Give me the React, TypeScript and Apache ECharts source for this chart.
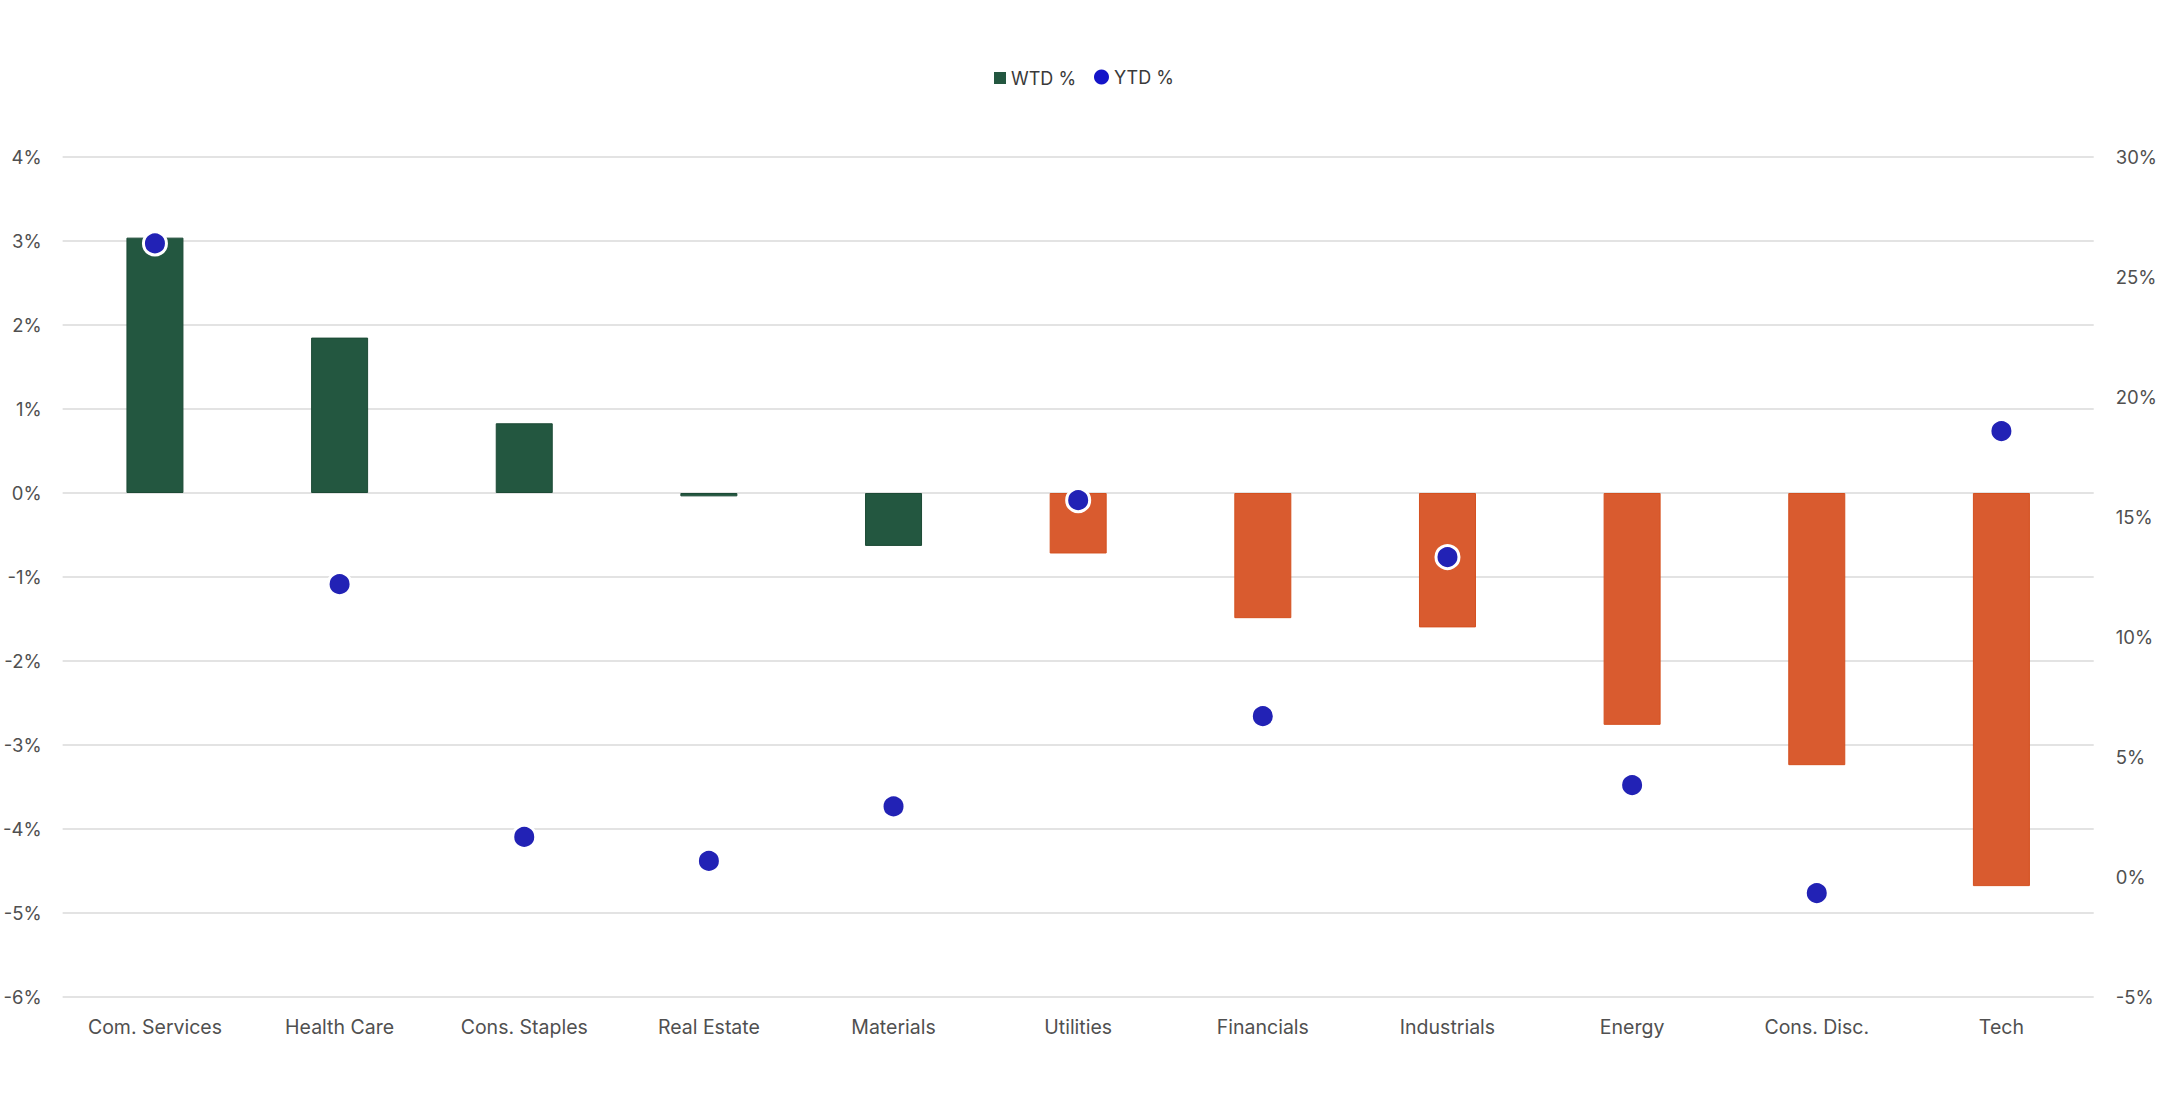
import React, { useEffect, useRef } from 'react';
import * as echarts from 'echarts';

const sectors = [
  'Com. Services', 'Health Care', 'Cons. Staples', 'Real Estate', 'Materials',
  'Utilities', 'Financials', 'Industrials', 'Energy', 'Cons. Disc.', 'Tech',
];
const wtdValues = [3.04, 1.85, 0.83, -0.04, -0.63, -0.72, -1.49, -1.6, -2.76, -3.24, -4.68];
const ytdValues = [26.4, 12.2, 1.67, 0.67, 2.94, 15.7, 6.7, 13.33, 3.83, -0.67, 18.58];
// first five bars green, the rest orange
const barColors = [
  '#235740', '#235740', '#235740', '#235740', '#235740',
  '#d95b2f', '#d95b2f', '#d95b2f', '#d95b2f', '#d95b2f', '#d95b2f',
];

const FONT = 'Inter, "Liberation Sans", sans-serif';
const LABEL_COLOR = '#505050';

const App: React.FC = () => {
  const chartRef = useRef<HTMLDivElement>(null);

  useEffect(() => {
    if (!chartRef.current) return;
    const chart = echarts.init(chartRef.current, undefined, { renderer: 'svg' });

    const legendText = { fontFamily: FONT, fontSize: 18, color: '#3a3a3a' };

    const option = {
      animation: false,
      backgroundColor: '#ffffff',
      textStyle: { fontFamily: FONT },
      // two legends so the square and the dot can have different sizes
      legend: [
        {
          top: 64,
          left: 989,
          itemWidth: 12,
          itemHeight: 12,
          textStyle: legendText,
          data: [{ name: 'WTD %', icon: 'rect' }],
        },
        {
          top: 63,
          left: 1089,
          itemWidth: 15,
          itemHeight: 15,
          textStyle: legendText,
          data: [{ name: 'YTD %', icon: 'circle', itemStyle: { color: '#1414c8', borderWidth: 0 } }],
        },
      ],
      grid: { left: 58, right: 65, top: 157, bottom: 110, containLabel: false },
      xAxis: {
        type: 'category',
        data: sectors,
        axisLine: { show: false },
        axisTick: { show: false },
        axisLabel: { fontFamily: FONT, fontSize: 19.5, color: LABEL_COLOR, margin: 20, interval: 0 },
      },
      yAxis: [
        {
          type: 'value',
          min: -6,
          max: 4,
          interval: 1,
          axisLine: { show: false },
          axisTick: { show: false },
          axisLabel: { formatter: '{value}%', fontFamily: FONT, fontSize: 18.5, color: LABEL_COLOR, margin: 21 },
          splitLine: { lineStyle: { color: '#dadada', width: 1.5 } },
        },
        {
          type: 'value',
          min: -5,
          max: 30,
          interval: 5,
          position: 'right',
          axisLine: { show: false },
          axisTick: { show: false },
          axisLabel: { formatter: '{value}%', fontFamily: FONT, fontSize: 18.5, color: LABEL_COLOR, margin: 22 },
          splitLine: { show: false },
        },
      ],
      series: [
        {
          name: 'WTD %',
          type: 'bar',
          yAxisIndex: 0,
          barWidth: 57,
          itemStyle: { color: '#235740' },
          data: wtdValues.map((v, i) => ({
            value: v,
            itemStyle: {
              color: barColors[i],
              borderColor: barColors[i] === '#235740' ? '#1c4a35' : '#d4501f',
              borderWidth: 1,
            },
          })),
        },
        {
          name: 'YTD %',
          type: 'scatter',
          yAxisIndex: 1,
          symbol: 'circle',
          symbolSize: 23,
          z: 5,
          itemStyle: { color: '#2222b5', borderColor: '#ffffff', borderWidth: 3, opacity: 1 },
          data: ytdValues,
        },
      ],
    };

    chart.setOption(option);

    const handleResize = () => chart.resize();
    window.addEventListener('resize', handleResize);
    return () => {
      window.removeEventListener('resize', handleResize);
      chart.dispose();
    };
  }, []);

  return (
    <div
      ref={chartRef}
      style={{ position: 'fixed', left: 0, top: 0, width: 2160, height: 1107, background: '#fff' }}
    />
  );
};

export default App;
